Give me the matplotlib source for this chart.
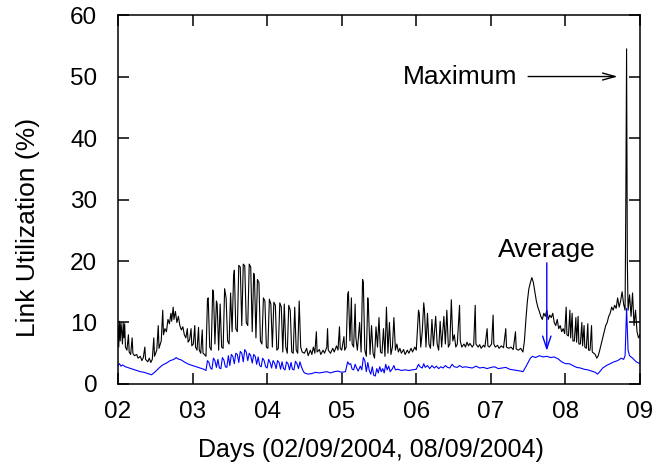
import matplotlib
matplotlib.use('Agg')
from matplotlib import pyplot as plt

# maximum link utilization (black), day of month vs percent
max_days = [2.00, 2.01, 2.02, 2.03, 2.04, 2.05, 2.06, 2.07, 2.08, 2.09, 2.10, 2.12, 2.14, 2.15, 2.17, 2.19,
            2.20, 2.22, 2.25, 2.27, 2.30, 2.32, 2.34, 2.36, 2.37, 2.40, 2.42, 2.44, 2.46, 2.48, 2.49, 2.52,
            2.54, 2.55, 2.58, 2.60, 2.61, 2.63, 2.65, 2.67, 2.69, 2.71, 2.72, 2.74, 2.75, 2.77, 2.79, 2.81,
            2.83, 2.85, 2.87, 2.89, 2.91, 2.93, 2.94, 2.96, 2.98, 2.99, 3.01, 3.03, 3.04, 3.06, 3.08, 3.09,
            3.11, 3.13, 3.14, 3.16,
            3.18, 3.20, 3.21, 3.23, 3.25, 3.27, 3.28, 3.30, 3.32, 3.33, 3.35, 3.37, 3.39, 3.41, 3.43, 3.45,
            3.47, 3.49, 3.51, 3.53, 3.55, 3.56, 3.58, 3.60, 3.62, 3.64, 3.66, 3.68, 3.70, 3.72, 3.74, 3.76,
            3.78, 3.80, 3.82, 3.83, 3.85, 3.87, 3.89, 3.91, 3.93, 3.95, 3.97, 3.99, 4.01, 4.03, 4.05, 4.07,
            4.09, 4.11, 4.13, 4.15, 4.17, 4.19, 4.21, 4.23, 4.25, 4.27, 4.29, 4.31, 4.33, 4.35, 4.37, 4.39,
            4.41, 4.43, 4.45, 4.47,
            4.50, 4.53, 4.55, 4.58, 4.60, 4.62, 4.64, 4.66, 4.67, 4.70, 4.72, 4.75, 4.77, 4.80, 4.81, 4.82,
            4.85, 4.88, 4.90, 4.93, 4.95, 4.97, 4.98, 5.00, 5.03, 5.04, 5.06,
            5.08, 5.09, 5.11, 5.13, 5.14, 5.16, 5.18, 5.19, 5.21, 5.24, 5.26, 5.28, 5.29, 5.31, 5.33, 5.35,
            5.36, 5.38, 5.40, 5.42, 5.44, 5.46, 5.48, 5.50, 5.52, 5.54, 5.56, 5.58, 5.60, 5.62, 5.64, 5.66,
            5.68, 5.70, 5.72, 5.74, 5.76, 5.78, 5.80, 5.83, 5.85, 5.88, 5.90, 5.93, 5.95, 5.98, 6.00,
            6.03, 6.04, 6.06, 6.08, 6.10, 6.11, 6.13, 6.15, 6.17, 6.19, 6.21, 6.23, 6.26, 6.28, 6.30, 6.32,
            6.34, 6.37, 6.39, 6.41, 6.43, 6.45, 6.47, 6.49, 6.51, 6.53, 6.55, 6.58, 6.59, 6.61, 6.64, 6.66,
            6.68, 6.70, 6.72, 6.75, 6.77, 6.79, 6.80, 6.83, 6.85, 6.87, 6.90, 6.92, 6.95, 6.96, 6.98, 7.01,
            7.03, 7.04, 7.06, 7.09, 7.11, 7.14, 7.17, 7.20, 7.21, 7.24, 7.27, 7.30, 7.33, 7.34, 7.37, 7.40,
            7.43,
            7.45, 7.47, 7.49, 7.51, 7.53, 7.55, 7.57, 7.59, 7.61, 7.63, 7.65, 7.67, 7.69, 7.71, 7.73, 7.75,
            7.77, 7.79, 7.81, 7.83, 7.85, 7.87, 7.89, 7.91, 7.93, 7.95,
            7.97, 7.99, 8.01, 8.02, 8.04, 8.06, 8.07, 8.09, 8.10, 8.12, 8.14, 8.15, 8.17, 8.18, 8.20, 8.22,
            8.23, 8.25, 8.26, 8.28, 8.30, 8.31, 8.33, 8.35, 8.36, 8.38, 8.40, 8.42, 8.44, 8.46, 8.48, 8.50,
            8.52, 8.54, 8.56, 8.58, 8.60, 8.62, 8.64, 8.66, 8.68, 8.70, 8.72, 8.74, 8.76, 8.78, 8.80, 8.81,
            8.82, 8.83, 8.84, 8.86, 8.88, 8.90, 8.92, 8.94, 8.96, 8.98, 9.00]
max_util = [9.5, 6.0, 10.2, 7.0, 10.0, 8.5, 6.5, 10.0, 7.5, 9.8, 6.0, 5.5, 8.0, 5.2, 4.8, 7.5,
            5.0, 4.6, 4.8, 4.2, 4.5, 3.8, 4.3, 6.0, 4.0, 3.6, 4.2, 3.5, 4.0, 7.5, 4.5, 5.5,
            9.5, 5.8, 7.0, 12.0, 8.0, 9.0, 8.5, 10.5, 9.8, 11.5, 10.2, 12.5, 10.5, 11.8, 10.0, 11.0,
            9.5, 8.8, 9.3, 8.0, 7.5, 9.0, 6.8, 7.2, 9.0, 6.2, 6.5, 9.5, 6.0, 5.5, 9.2, 5.5,
            5.0, 8.8, 5.0, 4.8,
            4.5, 13.8, 14.0, 6.0, 5.5, 15.3, 15.0, 6.5, 13.5, 13.0, 5.5, 13.0, 6.0, 5.8, 15.5, 14.0,
            7.0, 6.5, 14.8, 8.5, 17.5, 18.5, 9.0, 8.5, 19.3, 19.0, 9.5, 19.5, 19.2, 10.0, 9.5, 19.5,
            19.0, 8.5, 18.0, 17.5, 7.5, 17.0, 16.5, 7.0, 6.5, 14.0, 13.5, 6.0, 5.8, 13.8, 13.0, 6.0,
            13.3, 12.8, 5.5, 5.8, 13.2, 12.5, 5.2, 13.0, 6.0, 5.0, 12.8, 12.0, 5.2, 5.0, 12.5, 5.5,
            5.0, 13.5, 6.0, 5.2,
            5.0, 5.8, 4.6, 5.5, 4.8, 6.0, 5.0, 8.5, 5.2, 5.6, 4.8, 5.5, 5.0, 6.0, 9.0, 5.5,
            5.0, 5.8, 5.2, 6.2, 5.5, 9.3, 5.8, 5.5, 7.7, 5.5, 6.0,
            14.5, 15.0, 7.0, 14.0, 6.5, 6.0, 13.0, 7.5, 5.5, 10.0, 5.2, 17.0, 16.5, 5.5, 4.5, 14.0,
            12.0, 4.8, 9.5, 5.0, 4.2, 9.3, 6.0, 10.8, 5.2, 5.0, 9.0, 4.5, 12.5, 5.0, 10.0, 4.8,
            6.0, 10.8, 5.5, 6.5, 5.2, 5.8, 5.0, 5.6, 4.8, 5.5, 5.0, 5.8, 5.2, 6.0, 5.5,
            12.0, 11.5, 6.0, 8.5, 13.2, 12.0, 6.0, 11.5, 6.5, 5.8, 10.5, 6.2, 11.0, 6.5, 5.5, 10.2,
            6.0, 11.0, 6.5, 12.0, 6.0, 6.5, 13.7, 7.0, 8.0, 6.0, 6.5, 12.8, 7.0, 6.0, 6.5, 6.0,
            6.8, 6.2, 6.6, 6.0, 6.4, 12.8, 6.5, 6.0, 6.4, 5.8, 6.3, 6.0, 9.0, 6.2, 6.0, 6.5,
            11.2, 6.5, 6.0, 6.3, 5.8, 6.2, 5.9, 9.0, 6.0, 5.8, 6.0, 5.6, 8.5, 5.7, 5.5, 5.8,
            5.2,
            7.0, 10.5, 13.5, 15.5, 16.5, 17.3, 16.5, 15.0, 13.5, 12.5, 11.8, 11.0, 10.5, 11.5, 11.0, 12.0,
            10.5, 11.2, 10.8, 11.5, 10.0, 9.5, 10.5, 9.0, 9.5, 8.5,
            9.0, 8.2, 12.5, 8.0, 7.8, 12.0, 7.5, 11.5, 7.0, 7.0, 10.8, 6.8, 11.0, 6.5, 6.5, 10.0,
            6.2, 9.5, 6.0, 5.8, 9.8, 5.5, 5.5, 9.5, 5.2, 5.0, 4.8, 4.2, 4.6, 5.5, 6.5, 7.5,
            8.5, 9.5, 10.0, 11.0, 11.5, 12.5, 12.0, 12.8, 12.3, 14.0, 12.5, 13.5, 15.0, 13.0, 12.0, 30.0,
            54.5, 20.0, 12.0, 14.5, 11.0, 14.8, 9.5, 12.0, 8.5, 7.5, 8.0]

# average link utilization (blue)
avg_days = [2.00, 2.02, 2.04, 2.06, 2.10, 2.15, 2.20, 2.25, 2.30, 2.35, 2.40, 2.45, 2.50, 2.55, 2.60, 2.65,
            2.70, 2.75, 2.78, 2.80, 2.85, 2.90, 2.95, 3.00, 3.05, 3.10, 3.15, 3.18,
            3.20, 3.22, 3.24, 3.26, 3.28, 3.30, 3.32, 3.34, 3.36, 3.38, 3.40, 3.42, 3.44, 3.46, 3.48, 3.50,
            3.52, 3.54, 3.56, 3.58, 3.60, 3.62, 3.64, 3.66, 3.68, 3.70, 3.72, 3.74, 3.76, 3.78, 3.80, 3.82,
            3.84, 3.86, 3.88, 3.90, 3.92, 3.94, 3.96, 3.98, 4.00, 4.02, 4.04, 4.06, 4.08, 4.10, 4.12, 4.14,
            4.16, 4.18, 4.20, 4.22, 4.24, 4.26, 4.28, 4.30, 4.32, 4.34, 4.36, 4.38, 4.40, 4.42, 4.44, 4.46,
            4.48,
            4.50, 4.55, 4.60, 4.65, 4.70, 4.75, 4.80, 4.85, 4.90, 4.95, 5.00, 5.05,
            5.08, 5.10, 5.12, 5.14, 5.16, 5.18, 5.20, 5.22, 5.25, 5.27, 5.29, 5.31, 5.33, 5.35, 5.37, 5.39,
            5.41, 5.43, 5.45, 5.47, 5.49, 5.51, 5.53, 5.55, 5.57, 5.59, 5.61, 5.63, 5.65, 5.68, 5.70, 5.72,
            5.75, 5.80, 5.85, 5.90, 5.95, 6.00,
            6.03, 6.05, 6.08, 6.10, 6.12, 6.15, 6.18, 6.21, 6.24, 6.27, 6.30, 6.33, 6.36, 6.39, 6.42, 6.45,
            6.48, 6.51, 6.55, 6.58, 6.62, 6.66, 6.70, 6.75, 6.80, 6.85, 6.90, 6.95, 7.00, 7.05, 7.10, 7.15,
            7.20, 7.25, 7.30, 7.35, 7.40, 7.43,
            7.46, 7.50, 7.53, 7.56, 7.60, 7.65, 7.70, 7.75, 7.80, 7.85, 7.90, 7.95, 8.00, 8.05, 8.10, 8.15,
            8.20, 8.25, 8.30, 8.35, 8.40, 8.43, 8.46, 8.50, 8.55, 8.60, 8.65, 8.70, 8.75, 8.78, 8.80, 8.82,
            8.84, 8.86, 8.90, 8.95, 9.00]
avg_util = [3.0, 3.3, 2.9, 3.1, 2.8, 2.6, 2.4, 2.2, 2.0, 1.9, 1.7, 1.5, 2.0, 2.6, 3.1, 3.4,
            3.8, 4.0, 4.3, 4.1, 3.9, 3.5, 3.2, 3.0, 2.8, 2.6, 2.4, 2.2,
            3.8, 3.5, 2.6, 2.4, 4.2, 3.8, 2.7, 4.0, 2.6, 2.5, 4.3, 3.9, 2.8, 2.7, 4.6, 3.0,
            4.8, 4.5, 3.3, 5.0, 4.8, 3.5, 5.3, 5.0, 3.6, 5.6, 5.2, 3.8, 5.0, 4.6, 3.4, 4.8,
            4.5, 3.2, 4.4, 3.0, 2.8, 4.2, 3.8, 2.8, 2.6, 4.0, 3.5, 2.6, 3.8, 3.4, 2.5, 3.8,
            3.5, 2.4, 3.6, 2.5, 2.3, 3.6, 3.3, 2.3, 3.5, 2.4, 2.3, 3.7, 3.3, 2.5, 3.6, 2.8,
            2.2,
            1.8, 1.6, 1.7, 1.9, 1.8, 1.9, 2.0, 1.8, 2.0, 2.1, 1.9, 2.0,
            3.6, 3.2, 3.3, 2.4, 2.3, 3.2, 2.6, 2.1, 2.9, 2.3, 4.3, 3.8, 2.0, 3.5, 2.2, 1.6,
            2.8, 1.4, 1.3, 2.5, 1.8, 2.8, 2.0, 2.5, 1.8, 3.2, 2.3, 2.9, 2.0, 2.5, 3.0, 2.3,
            2.4, 2.2, 2.3, 2.2, 2.3, 2.4,
            3.2, 2.8, 2.6, 3.3, 2.7, 3.0, 2.5, 3.0, 2.6, 2.9, 2.5, 2.8, 2.6, 3.0, 2.7, 2.6,
            3.2, 2.8, 2.7, 3.0, 2.7, 2.8, 2.7, 2.6, 2.9, 2.6, 2.7, 2.5, 2.7, 2.8, 2.5, 2.6,
            2.7, 2.4, 2.3, 2.2, 2.1, 2.0,
            2.6, 3.5, 4.2, 4.5, 4.3, 4.6, 4.4, 4.5, 4.3, 4.4, 4.1, 3.6, 3.3, 3.3, 3.0, 2.7,
            2.6, 2.4, 2.3, 2.1, 1.9, 1.6, 2.0, 2.6, 3.0, 3.3, 3.6, 3.8, 4.2, 4.0, 4.6, 12.3,
            5.5, 4.6, 4.2, 3.6, 3.3]

xticks = [2, 3, 4, 5, 6, 7, 8, 9]
xticklabels = ['02', '03', '04', '05', '06', '07', '08', '09']
yticks = [0, 10, 20, 30, 40, 50, 60]

plt.rcParams['font.family'] = ['Liberation Sans', 'DejaVu Sans']

fig = plt.figure(figsize=(6.54, 4.70), dpi=100)
ax = fig.add_axes([0.1804, 0.183, 0.7982, 0.785])

ax.plot(max_days, max_util, color='black', lw=0.8)
ax.plot(avg_days, avg_util, color='#0000ff', lw=0.8)

ax.set_xlim(2, 9)
ax.set_ylim(0, 60)
ax.set_xticks(xticks)
ax.set_xticklabels(xticklabels)
ax.set_yticks(yticks)
ax.tick_params(direction='in', length=8, width=1.1, labelsize=17.5,
               top=True, right=True)
ax.tick_params(axis='x', pad=12)
ax.tick_params(axis='y', pad=15)
for s in ax.spines.values():
    s.set_linewidth(1.1)

ax.set_xlabel('Days (02/09/2004, 08/09/2004)', fontsize=18, va='center')
ax.xaxis.set_label_coords(0.485, -0.179)
ax.set_ylabel('Link Utilization (%)', fontsize=19, va='center')
ax.yaxis.set_label_coords(-0.172, 0.423)

# annotations
ax.text(7.35, 50, 'Maximum', fontsize=19, ha='right', va='center')
ax.annotate('', xy=(8.70, 50), xytext=(7.50, 50),
            arrowprops=dict(arrowstyle='->,head_length=0.9,head_width=0.25', color='black',
                            lw=1.0, shrinkA=0, shrinkB=0))
ax.text(7.75, 21.8, 'Average', fontsize=19, ha='center', va='center')
ax.annotate('', xy=(7.75, 5.4), xytext=(7.75, 19.7),
            arrowprops=dict(arrowstyle='->,head_length=0.9,head_width=0.3', color='#0000ff',
                            lw=1.0, shrinkA=0, shrinkB=0))

plt.savefig('out.png', dpi=100)
